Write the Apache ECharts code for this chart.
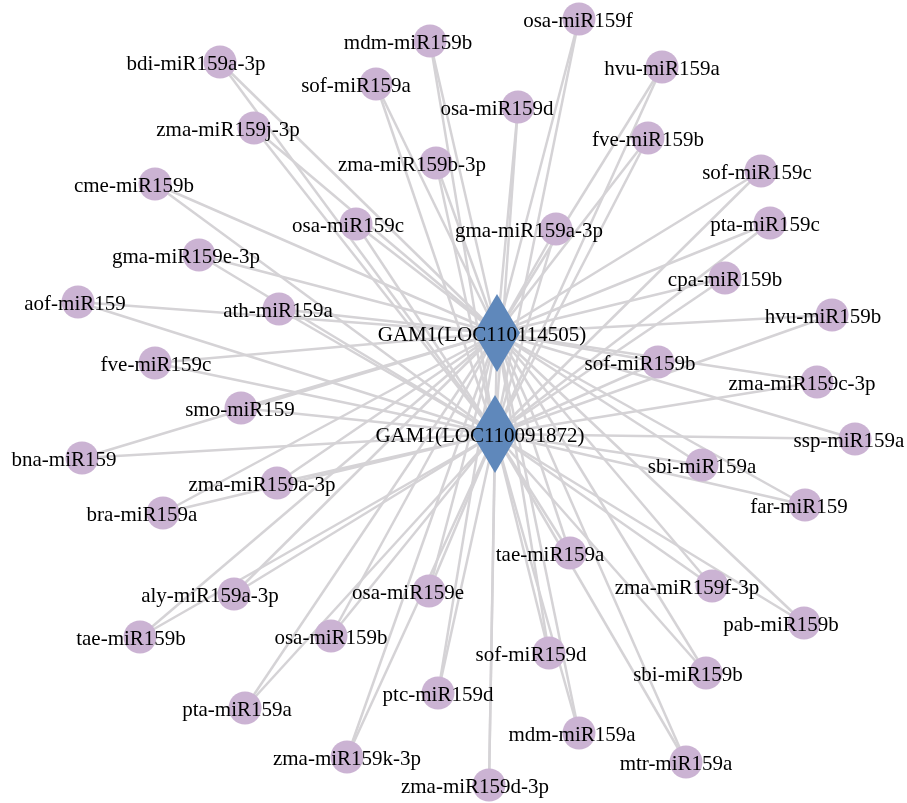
<!DOCTYPE html>
<html>
<head>
<meta charset="utf-8">
<script src="https://cdn.jsdelivr.net/npm/echarts@6/dist/echarts.min.js"></script>
<style>
  html, body { margin: 0; padding: 0; background: #fff; }
  #chart { width: 907px; height: 803px; }
</style>
</head>
<body>
<div id="chart"></div>
<script>
// target genes (diamonds)
const genes = ['GAM1(LOC110114505)', 'GAM1(LOC110091872)'];
const geneX = [497, 495];
const geneY = [333, 434];

// miRNA nodes and where they sit in the network picture
const mirnas = [
  'osa-miR159f', 'mdm-miR159b', 'bdi-miR159a-3p', 'hvu-miR159a', 'sof-miR159a',
  'osa-miR159d', 'zma-miR159j-3p', 'fve-miR159b', 'zma-miR159b-3p', 'cme-miR159b',
  'sof-miR159c', 'osa-miR159c', 'gma-miR159a-3p', 'pta-miR159c', 'gma-miR159e-3p',
  'cpa-miR159b', 'aof-miR159', 'ath-miR159a', 'hvu-miR159b', 'fve-miR159c',
  'sof-miR159b', 'zma-miR159c-3p', 'smo-miR159', 'ssp-miR159a', 'bna-miR159',
  'sbi-miR159a', 'zma-miR159a-3p', 'far-miR159', 'bra-miR159a', 'tae-miR159a',
  'zma-miR159f-3p', 'aly-miR159a-3p', 'osa-miR159e', 'pab-miR159b', 'tae-miR159b',
  'osa-miR159b', 'sof-miR159d', 'sbi-miR159b', 'ptc-miR159d', 'pta-miR159a',
  'mdm-miR159a', 'zma-miR159k-3p', 'mtr-miR159a', 'zma-miR159d-3p'
];
const mirX = [
  579, 430, 220, 662, 376,
  518, 254, 648, 436, 155,
  761, 356, 556, 770, 199,
  725, 78, 279, 832, 155,
  658, 817, 241, 855, 82,
  702, 277, 805, 163, 570,
  712, 234, 429, 804, 140,
  331, 549, 706, 438, 245,
  579, 347, 686, 489
];
const mirY = [
  19, 41, 62, 67, 84,
  107, 128, 138, 163, 184,
  171, 224, 229, 223, 255,
  278, 302, 309, 315, 363,
  362, 382, 408, 439, 458,
  465, 483, 505, 513, 553,
  586, 594, 591, 623, 637,
  636, 653, 673, 693, 708,
  733, 757, 762, 785
];

// horizontal label nudges (layout only)
const labelNudge = [
  -1, -22, -24, 0, -20,
  -21, -26, 0, -24, -21,
  -4, -8, -27, -5, -13,
  0, -3, -1, -9, 1,
  -18, -15, -1, -6, -18,
  0, -15, -6, -21, -20,
  -25, -24, -21, -23, -9,
  0, -18, -18, 0, -8,
  -7, 0, -10, -14
];

const nodes = [];
genes.forEach(function (g, i) {
  nodes.push({
    name: g,
    value: [geneX[i], geneY[i]],
    symbol: 'diamond',
    symbolSize: [46, 78],
    itemStyle: { color: '#5f88bb' },
    label: { offset: [-15, 2] }
  });
});
mirnas.forEach(function (m, i) {
  nodes.push({
    name: m,
    value: [mirX[i], mirY[i]],
    symbol: 'circle',
    symbolSize: 33,
    itemStyle: { color: '#cbb3d3' },
    label: { offset: [labelNudge[i], 2] }
  });
});

const links = [];
mirnas.forEach(function (m) {
  genes.forEach(function (g) {
    links.push({ source: m, target: g });
  });
});

let myChart = echarts.init(document.getElementById('chart'));
myChart.setOption({
  backgroundColor: '#fff',
  animation: false,
  grid: { left: 0, right: 0, top: 0, bottom: 0 },
  xAxis: { type: 'value', min: 0, max: 907, show: false },
  yAxis: { type: 'value', min: 0, max: 803, inverse: true, show: false },
  series: [
    {
      type: 'graph',
      coordinateSystem: 'cartesian2d',
      data: nodes,
      links: links,
      label: {
        show: true,
        position: 'inside',
        color: '#000',
        fontFamily: 'Liberation Serif',
        fontSize: 21
      },
      lineStyle: {
        color: '#d5d3d6',
        width: 2.5,
        opacity: 1,
        curveness: 0
      },
      emphasis: { disabled: true }
    }
  ]
});
</script>
</body>
</html>
